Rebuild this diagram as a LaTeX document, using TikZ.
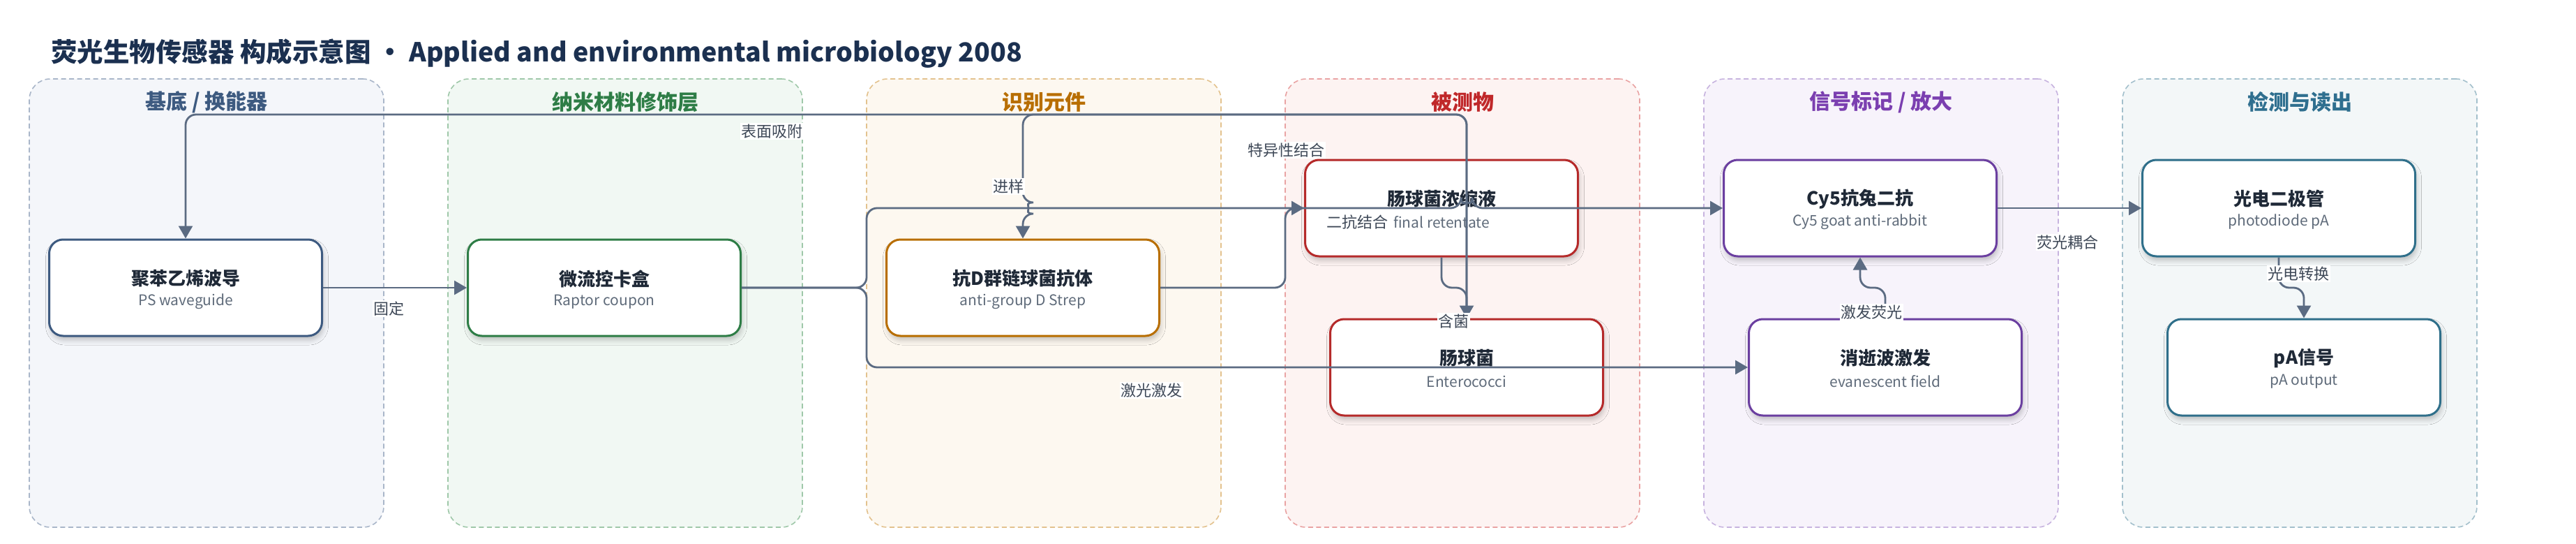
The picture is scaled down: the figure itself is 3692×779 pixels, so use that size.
\documentclass[tikz,border=0pt]{standalone}
\usepackage{fontspec}
\setmainfont{Noto Sans CJK SC}
\usetikzlibrary{arrows.meta,shadows.blur,calc}
\definecolor{edgec}{HTML}{5B6B82}
\definecolor{lblc}{HTML}{3E4857}
\definecolor{ttlc}{HTML}{1F2937}
\definecolor{subc}{HTML}{5F6B7A}
\definecolor{headc}{HTML}{1B3050}
\definecolor{laAf}{HTML}{F4F6FA}\definecolor{laAd}{HTML}{A9B6C9}\definecolor{laAt}{HTML}{3D5A80}
\definecolor{laBf}{HTML}{F1F8F3}\definecolor{laBd}{HTML}{9FC8A9}\definecolor{laBt}{HTML}{2E7D46}
\definecolor{laCf}{HTML}{FDF8F0}\definecolor{laCd}{HTML}{E3C28E}\definecolor{laCt}{HTML}{B86E00}
\definecolor{laDf}{HTML}{FDF3F2}\definecolor{laDd}{HTML}{E9A3A3}\definecolor{laDt}{HTML}{C0282A}
\definecolor{laEf}{HTML}{F7F3FB}\definecolor{laEd}{HTML}{C7B3DF}\definecolor{laEt}{HTML}{7B3FB0}
\definecolor{laFf}{HTML}{F3F7F8}\definecolor{laFd}{HTML}{A3C0CC}\definecolor{laFt}{HTML}{2F6F8F}
\definecolor{bA}{HTML}{3D5A80}
\definecolor{bB}{HTML}{2E7D46}
\definecolor{bC}{HTML}{B86E00}
\definecolor{bD}{HTML}{B52A2A}
\definecolor{bE}{HTML}{6B3FA0}
\definecolor{bF}{HTML}{2F6F8A}
\tikzset{
  lanebox/.style 2 args={draw=#2, fill=#1, dashed, dash pattern=on 7pt off 4.5pt, line width=1.6pt, rounded corners=30pt, minimum width=508pt, minimum height=642pt, inner sep=0pt},
  lanetitle/.style={text=#1, font=\fontsize{30pt}{34pt}\selectfont\bfseries},
  nodebox/.style={draw=#1, line width=3pt, fill=white, rounded corners=20pt, minimum width=391pt, minimum height=138pt, inner sep=0pt,
     blur shadow={shadow xshift=2pt, shadow yshift=-6pt, shadow blur radius=7pt, shadow opacity=22}},
  ttl/.style={text=ttlc, font=\fontsize{26pt}{30pt}\selectfont\bfseries, inner sep=0pt},
  subt/.style={text=subc, font=\fontsize{21pt}{24pt}\selectfont, inner sep=0pt},
  conn/.style={draw=edgec, line width=2.8pt, rounded corners=15pt, -{Triangle[length=18pt,width=20pt]}},
  lbl/.style={fill=white, inner sep=1.5pt, text=lblc, font=\fontsize{22pt}{24pt}\selectfont},
}
\newcommand{\mkbox}[6]{%
  \node[nodebox=#4] (#1) at (#2,#3) {};
  \node[ttl] (#1-t) at (#2,#3-13) {#5};
  \node[subt] (#1-s) at (#2,#3+20) {#6};
}
\begin{document}
\begin{tikzpicture}[x=1pt,y=-1pt]
\useasboundingbox (0,0) rectangle (3692,779);
\fill[white] (0,0) rectangle (3692,779);
% title
\node[anchor=west, text=headc, inner sep=0pt, font=\fontsize{37.5pt}{40pt}\selectfont\bfseries] (title) at (73,77)
  {荧光生物传感器 构成示意图 · Applied and environmental microbiology 2008};
% lanes
\node[lanebox={laAf}{laAd}] (lane1) at (296,434) {};
\node[lanebox={laBf}{laBd}] (lane2) at (896,434) {};
\node[lanebox={laCf}{laCd}] (lane3) at (1496,434) {};
\node[lanebox={laDf}{laDd}] (lane4) at (2096,434) {};
\node[lanebox={laEf}{laEd}] (lane5) at (2696,434) {};
\node[lanebox={laFf}{laFd}] (lane6) at (3296,434) {};
\node[lanetitle=laAt] (lt1) at (296,146) {基底 / 换能器};
\node[lanetitle=laBt] (lt2) at (896,146) {纳米材料修饰层};
\node[lanetitle=laCt] (lt3) at (1496,146) {识别元件};
\node[lanetitle=laDt] (lt4) at (2096,146) {被测物};
\node[lanetitle=laEt] (lt5) at (2696,146) {信号标记 / 放大};
\node[lanetitle=laFt] (lt6) at (3296,146) {检测与读出};
% nodes
\mkbox{n1}{266}{412}{bA}{聚苯乙烯波导}{PS waveguide}
\mkbox{n2}{866}{412}{bB}{微流控卡盒}{Raptor coupon}
\mkbox{n3}{1466}{412}{bC}{抗D群链球菌抗体}{anti-group D Strep}
\mkbox{n4}{2066}{298}{bD}{肠球菌浓缩液}{final retentate}
\mkbox{n5}{2102}{526}{bD}{肠球菌}{Enterococci}
\mkbox{cy}{2666}{298}{bE}{Cy5抗兔二抗}{Cy5 goat anti-rabbit}
\mkbox{n6}{2702}{526}{bE}{消逝波激发}{evanescent field}
\mkbox{pd}{3266}{298}{bF}{光电二极管}{photodiode pA}
\mkbox{pa}{3302}{526}{bF}{pA信号}{pA output}
% connectors
\draw[conn] (n1.east) -- (n2.west);
\draw[conn] (n2.east) -- (1242,412) -- (1242,298) -- (2094,298)
   arc[start angle=180,end angle=0,radius=8pt] -- (cy.west);
\draw[conn] (n2.east) -- (1242,412) -- (1242,526) -- (n6.west);
\draw[conn] (n3.east) -- (1842,412) -- (1842,298) -- (n4.west);
\draw[conn] (n4.south) -- (2066,412) -- (2102,412) -- (n5.north);
\draw[conn] (n5.north) -- (2102,164) -- (266,164) -- (n1.north);
\draw[conn] (n5.north) -- (2102,164) -- (1466,164) -- (1466,290)
   arc[start angle=90,end angle=-90,radius=8pt] -- (n3.north);
\draw[conn] (cy.east) -- (pd.west);
\draw[conn] (pd.south) -- (3266,412) -- (3302,412) -- (pa.north);
\draw[conn] (n6.north) -- (2702,412) -- (2666,412) -- (cy.south);
% labels
\node[lbl] (l1) at (557,442) {固定};
\node[lbl] (l2) at (1106,188) {表面吸附};
\node[lbl] (l3) at (1445,267) {进样};
\node[lbl] (l4) at (1843,215) {特异性结合};
\node[lbl] (l5) at (1945,318) {二抗结合};
\node[lbl] (l6) at (2083,460) {含菌};
\node[lbl] (l7) at (1650,559) {激光激发};
\node[lbl] (l8) at (2682,447) {激发荧光};
\node[lbl] (l9) at (2963,347) {荧光耦合};
\node[lbl] (l10) at (3294,392) {光电转换};
\end{tikzpicture}
\end{document}
